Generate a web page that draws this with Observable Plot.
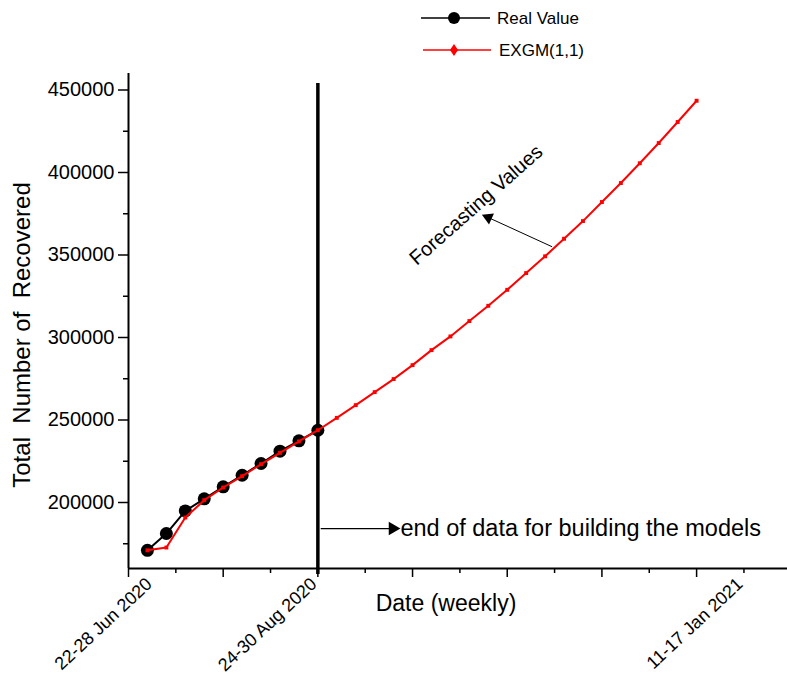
<!DOCTYPE html>
<html>
<head>
<meta charset="utf-8">
<script src="https://cdn.jsdelivr.net/npm/d3@7"></script>
<script src="https://cdn.jsdelivr.net/npm/@observablehq/plot@0.6"></script>
<style>
  body { margin: 0; background: #fff; font-family: "Liberation Sans", Arial, sans-serif; }
  #legend { display: block; }
</style>
</head>
<body>
<svg id="legend" width="787" height="64"></svg>
<div id="chart"></div>
<script>
// ---- Data ----
const weeks = d3.range(0, 30); // week index: 0 = 22-28 Jun 2020 ... 29 = 11-17 Jan 2021
const realValues = [171000, 181200, 194900, 202200, 209500, 216500, 223650, 231100, 237350, 243800];
const modelValues = [171000, 172700, 190900, 201400, 209100, 215950, 223200, 230100, 237000, 243800,
  251300, 259000, 266900, 274800, 283250, 292350, 300650, 309950, 319200, 328900,
  339050, 349200, 359850, 370550, 382100, 393600, 405600, 417850, 430600, 443500];
const tickLabels = ["22-28 Jun 2020", "24-30 Aug 2020", "11-17 Jan 2021"];
const tickLabelWeeks = [0.3, 9, 31.5];
const xMajorTicks = [-1, 4, 9, 14, 19, 24, 29, 34];
const xMinorTicks = [1.5, 6.5, 11.5, 16.5, 21.5, 26.5, 31.5];
const yMajorTicks = [200000, 250000, 300000, 350000, 400000, 450000];
const yMinorTicks = [175000, 225000, 275000, 325000, 375000, 425000];
const cutoffWeek = 9;
const endNote = {text: "end of data for building the models", x1: 9.15, x2: 12.95, head: 12.95, textX: 13.36, y: 184200};
const forecastNote = {text: "Forecasting Values", x: 17.36, y: 380300, ax1: 21.37, ay1: 355000, ax2: 18.0, ay2: 372700};

const real = realValues.map((v, i) => ({i: weeks[i], v}));
const model = modelValues.map((v, i) => ({i: weeks[i], v}));
const font = '"Liberation Sans", Arial, sans-serif';

// ---- Legend (above the plot) ----
const lg = d3.select("#legend");
lg.append("line").attr("x1", 421).attr("x2", 490).attr("y1", 18).attr("y2", 18).attr("stroke", "black").attr("stroke-width", 1.5);
lg.append("circle").attr("cx", 454).attr("cy", 18).attr("r", 6).attr("fill", "black");
lg.append("text").attr("x", 497).attr("y", 24).attr("font-family", font).attr("font-size", 17).text("Real Value");
lg.append("line").attr("x1", 423).attr("x2", 491).attr("y1", 50).attr("y2", 50).attr("stroke", "red").attr("stroke-width", 1.5);
lg.append("path").attr("d", "M454,44 L458,50 L454,56 L450,50 Z").attr("fill", "red");
lg.append("text").attr("x", 499).attr("y", 56).attr("font-family", font).attr("font-size", 17).text("EXGM(1,1)");

// ---- Chart ----
const chart = Plot.plot({
  width: 787,
  height: 614,
  marginLeft: 128,
  marginRight: 0,
  marginTop: 9,
  marginBottom: 110,
  style: {fontFamily: font, background: "#fff", color: "black", overflow: "visible"},
  x: {domain: [-1, 33.8]},
  y: {domain: [160000, 460000]},
  marks: [
    // axes
    Plot.axisY({ticks: yMajorTicks, tickSize: 10, tickPadding: 4, strokeWidth: 1.5, fontSize: 20, tickFormat: d => String(d), label: null}),
    Plot.axisY({ticks: yMinorTicks, tickSize: 5, strokeWidth: 1.5, tickFormat: () => "", label: null}),
    Plot.axisX({ticks: xMajorTicks, tickSize: 9, strokeWidth: 1.5, tickFormat: () => "", label: null}),
    Plot.axisX({ticks: xMinorTicks, tickSize: 5, strokeWidth: 1.5, tickFormat: () => "", label: null}),
    Plot.ruleX([-1], {strokeWidth: 2}),
    Plot.ruleY([160000], {strokeWidth: 2}),
    Plot.text(tickLabels, {x: (d, k) => tickLabelWeeks[k], text: d => d, frameAnchor: "bottom", dy: 17, rotate: -43, textAnchor: "end", fontSize: 18}),
    Plot.text(["Date (weekly)"], {frameAnchor: "bottom", dy: 42, dx: -12, fontSize: 23}),
    Plot.text(["Total  Number of  Recovered"], {frameAnchor: "left", dx: -106, dy: 14, rotate: -90, textAnchor: "middle", fontSize: 24}),
    // cutoff line
    Plot.ruleX([cutoffWeek], {y1: 156400, y2: 454000, strokeWidth: 3.5, stroke: "black"}),
    // real values
    Plot.line(real, {x: "i", y: "v", stroke: "black", strokeWidth: 2}),
    Plot.dot(real, {x: "i", y: "v", r: 6.5, fill: "black"}),
    // model
    Plot.line(model, {x: "i", y: "v", stroke: "red", strokeWidth: 2}),
    Plot.dot(model, {x: "i", y: "v", r: 2.2, symbol: "square", fill: "red"}),
    // annotation: end of data
    Plot.link([endNote], {x1: "x1", x2: "x2", y1: "y", y2: "y", stroke: "black", strokeWidth: 1.2}),
    Plot.dot([endNote], {x: "head", y: "y", symbol: "triangle", r: 5, rotate: 90, fill: "black"}),
    Plot.text([endNote], {x: "textX", y: "y", text: "text", textAnchor: "start", fontSize: 23.5}),
    // annotation: forecasting values
    Plot.link([forecastNote], {x1: "ax1", y1: "ay1", x2: "ax2", y2: "ay2", stroke: "black", strokeWidth: 1}),
    Plot.dot([forecastNote], {x: "ax2", y: "ay2", symbol: "triangle", r: 4.5, rotate: -66, fill: "black"}),
    Plot.text([forecastNote], {x: "x", y: "y", text: "text", rotate: -41.5, fontSize: 20})
  ]
});
document.getElementById("chart").appendChild(chart);
</script>
</body>
</html>
